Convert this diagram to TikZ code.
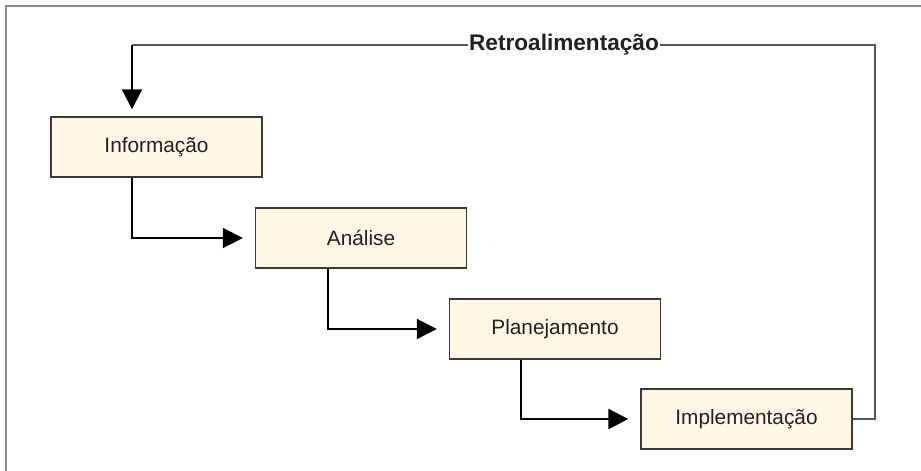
\documentclass[tikz,border=0pt]{standalone}
\usepackage{fontspec}
\setmainfont{Liberation Sans}
\usetikzlibrary{arrows.meta}
\definecolor{boxfill}{HTML}{FFF6E3}
\definecolor{boxline}{HTML}{3A3A3A}
\definecolor{textgray}{HTML}{222222}
\definecolor{framegray}{HTML}{8C8C8C}
\definecolor{loopgray}{HTML}{555555}
\tikzset{
  stage/.style={draw=boxline, line width=1.4pt, fill=boxfill, minimum width=211pt,
    minimum height=60pt, inner sep=0pt, text=textgray,
    font=\fontsize{20.8}{24}\selectfont},
  flow/.style={line width=2pt, black, -{Triangle[length=20pt,width=20pt]}},
  loopline/.style={line width=1.3pt, loopgray},
  frameline/.style={line width=2pt, framegray}
}
\begin{document}
\begin{tikzpicture}[x=1pt, y=-1pt]
  \useasboundingbox (0,0) rectangle (921,471);
  % page frame: top and left edges
  \draw[frameline] (6,471) -- (6,6) -- (921,6);

  % stages of the cycle
  \node[stage] (info) at (156.5,147) {Informação};
  \node[stage] (anal) at (361,238) {Análise};
  \node[stage] (plan) at (555,329) {Planejamento};
  \node[stage] (impl) at (746.5,419) {Implementação};

  % forward steps
  \draw[flow, shorten >=12pt] (info.south -| 132,0) |- (anal.west);
  \draw[flow, shorten >=12pt] (anal.south -| 328,0) |- (plan.west);
  \draw[flow, shorten >=12pt] (plan.south -| 521,0) |- (impl.west);

  % feedback loop
  \coordinate (fbright) at (875,45);
  \coordinate (fbleft) at (132,45);
  \draw[loopline] (impl.east) -| (fbright) -- (fbleft);
  \draw[flow, shorten >=7pt] (fbleft) -- (info.north -| fbleft);
  \node[fill=white, inner sep=1pt, text=textgray,
        font=\fontsize{22.6}{26}\selectfont\bfseries] (fblabel) at (564,45) {Retroalimentação};
\end{tikzpicture}
\end{document}
